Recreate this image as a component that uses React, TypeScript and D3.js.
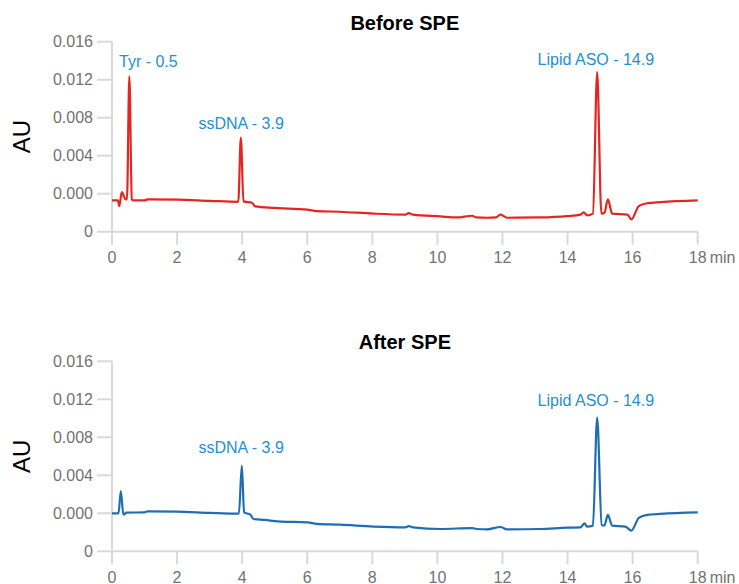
import React from "react";
import * as d3 from "d3";

// ---- data ----
const xTicks = [0, 2, 4, 6, 8, 10, 12, 14, 16, 18];
const xTickLabels = ["0", "2", "4", "6", "8", "10", "12", "14", "16", "18"];
const xUnit = "min";
const yTicks = [-0.004, 0, 0.004, 0.008, 0.012, 0.016];
const yTickLabels = ["0", "0.000", "0.004", "0.008", "0.012", "0.016"];
const yLabel = "AU";

const beforeTitle = "Before SPE";
const beforeTrace: [number, number][] = [
  [0, -0.0007], [0.18, -0.0007], [0.225, -0.0013], [0.3, 0.00017], [0.4, -0.00053],
  [0.46, -0.0006], [0.533, 0.01235], [0.61, -0.0006], [0.65, -0.0007], [1.0, -0.0007],
  [1.1, -0.0006], [2, -0.00062], [3, -0.00075], [3.88, -0.00085], [3.96, 0.0059],
  [4.04, -0.00081], [4.3, -0.00095], [4.4, -0.00134], [5, -0.0015], [6, -0.00168],
  [6.3, -0.00183], [7, -0.0019], [8.04, -0.0021], [9.02, -0.0022], [9.12, -0.00205],
  [9.25, -0.0022], [10.09, -0.00239], [10.6, -0.0025], [11.07, -0.00232], [11.2, -0.0025],
  [11.53, -0.00253], [11.8, -0.0025], [11.94, -0.0022], [12.14, -0.00253], [13.17, -0.0025],
  [13.99, -0.00236], [14.4, -0.0022], [14.5, -0.00197], [14.6, -0.00228], [14.78, -0.0021],
  [14.91, 0.0128], [15.04, -0.0021], [15.13, -0.00204], [15.24, -0.0006], [15.37, -0.0021],
  [15.84, -0.0022], [15.96, -0.0027], [16.19, -0.0013], [16.45, -0.001], [16.86, -0.00088],
  [18, -0.0007],
];
// [label, time, AU, anchor]
const beforeLabels: [string, number, number, string][] = [
  ["Tyr - 0.5", 0.215, 0.01333, "start"],
  ["ssDNA - 3.9", 3.97, 0.00684, "middle"],
  ["Lipid ASO - 14.9", 14.87, 0.0135, "middle"],
];

const afterTitle = "After SPE";
const afterTrace: [number, number][] = [
  [0, 0.0], [0.2, 0.0], [0.27, 0.00233], [0.35, -0.00014], [0.45, 0.00007],
  [1.0, 0.0001], [1.1, 0.00021], [2, 0.00018], [3, 0.00005], [3.9, -0.00003],
  [3.99, 0.00503], [4.06, 0.0001], [4.25, -0.00014], [4.35, -0.0006], [4.7, -0.0007],
  [5.1, -0.00085], [6, -0.00095], [6.3, -0.00112], [7, -0.0012], [8.04, -0.0014],
  [9.02, -0.00148], [9.12, -0.00135], [9.25, -0.00148], [10.09, -0.00165], [11.07, -0.00155],
  [11.2, -0.00165], [11.53, -0.00169], [11.94, -0.00144], [12.14, -0.00169], [13.17, -0.00165],
  [13.99, -0.00151], [14.4, -0.00148], [14.52, -0.00106], [14.6, -0.0014], [14.78, -0.0013],
  [14.91, 0.01007], [15.05, -0.00122], [15.13, -0.0013], [15.24, -0.00017], [15.37, -0.0013],
  [15.78, -0.0014], [15.96, -0.00183], [16.19, -0.00049], [16.45, -0.00017], [16.86, -0.00006],
  [18, 0.0001],
];
const afterLabels: [string, number, number, string][] = [
  ["ssDNA - 3.9", 3.97, 0.00633, "middle"],
  ["Lipid ASO - 14.9", 14.87, 0.01126, "middle"],
];

// ---- layout ----
const W = 739;
const H = 584;
const FONT = "'Liberation Sans', Arial, Helvetica, sans-serif";
const AXIS = "#d9d9d9";
const TICKTXT = "#727272";
const LABELBLUE = "#2390d5";

const x = d3.scaleLinear().domain([0, 18]).range([112, 697.7]);

function Panel({ top, title, trace, labels, color }: {
  top: number; title: string; trace: [number, number][];
  labels: [string, number, number, string][]; color: string;
}) {
  const h = 190;
  const y = d3.scaleLinear().domain([-0.004, 0.016]).range([top + h, top]);
  const line = d3.line<[number, number]>()
    .x((d) => x(d[0]))
    .y((d) => y(d[1]))
    .curve(d3.curveMonotoneX);
  const x0 = x(0);
  const yb = y(-0.004);
  return (
    <g>
      <text x={(x(0) + x(18)) / 2} y={top - 12} textAnchor="middle" fontFamily={FONT}
        fontWeight="bold" fontSize={20} fill="#000">{title}</text>
      <text transform={`translate(30,${top + h / 2}) rotate(-90)`} textAnchor="middle"
        fontFamily={FONT} fontSize={24} fill="#000">{yLabel}</text>
      {/* y axis */}
      <line x1={x0} x2={x0} y1={y(0.016)} y2={yb + 13} stroke={AXIS} strokeWidth={2} />
      {yTicks.map((t, i) => (
        <g key={"y" + i}>
          <line x1={x0 - 15} x2={x0} y1={y(t)} y2={y(t)} stroke={AXIS} strokeWidth={2} />
          <text x={x0 - 19} y={y(t)} dy="0.35em" textAnchor="end" fontFamily={FONT}
            fontSize={16} fill={TICKTXT}>{yTickLabels[i]}</text>
        </g>
      ))}
      {/* x axis */}
      <line x1={x0} x2={x(18)} y1={yb} y2={yb} stroke={AXIS} strokeWidth={2} />
      {xTicks.map((t, i) => (
        <g key={"x" + i}>
          <line x1={x(t)} x2={x(t)} y1={yb} y2={yb + 13} stroke={AXIS} strokeWidth={2} />
          <text x={x(t)} y={yb + 31.5} textAnchor="middle" fontFamily={FONT}
            fontSize={16} fill={TICKTXT}>{xTickLabels[i]}</text>
        </g>
      ))}
      <text x={x(18) + 12} y={yb + 31.5} textAnchor="start" fontFamily={FONT}
        fontSize={16} fill={TICKTXT}>{xUnit}</text>
      {/* trace */}
      <path d={line(trace) || ""} fill="none" stroke={color} strokeWidth={2.2}
        strokeLinejoin="round" />
      {labels.map((l, i) => (
        <text key={"l" + i} x={x(l[1])} y={y(l[2])} textAnchor={l[3] as any}
          fontFamily={FONT} fontSize={16} fill={LABELBLUE}>{l[0]}</text>
      ))}
    </g>
  );
}

export default function App() {
  return (
    <svg width={W} height={H} style={{ position: "absolute", left: 0, top: 0, background: "#fff" }}>
      <rect x={0} y={0} width={W} height={H} fill="#fff" />
      <Panel top={41.7} title={beforeTitle} trace={beforeTrace} labels={beforeLabels} color="#e52620" />
      <Panel top={361.3} title={afterTitle} trace={afterTrace} labels={afterLabels} color="#1f6db3" />
    </svg>
  );
}
